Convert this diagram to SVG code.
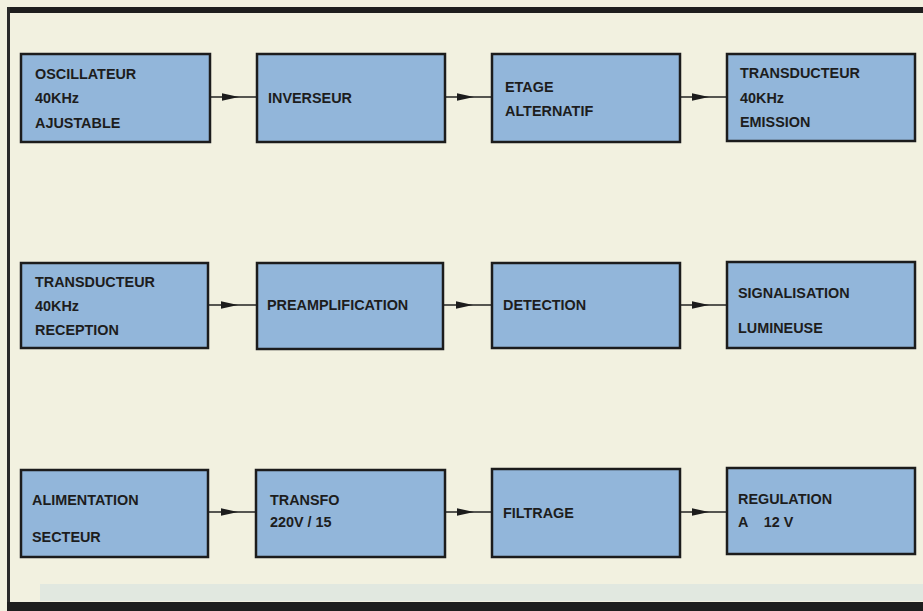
<svg xmlns="http://www.w3.org/2000/svg" width="923" height="611" viewBox="0 0 923 611">
  <defs>
    <style>
      .box { fill: #92b6da; stroke: #1c1c1c; stroke-width: 2.5; }
      .lbl { font-family: "Liberation Sans", Arial, Helvetica, sans-serif; font-weight: bold; font-size: 14.4px; fill: #1d1d1d; }
      .conn { fill: none; stroke: #222; stroke-width: 1.7; marker-mid: url(#arr); }
    </style>
    <marker id="arr" markerUnits="userSpaceOnUse" viewBox="0 0 17 9" markerWidth="17" markerHeight="9" refX="17" refY="4.5" orient="auto">
      <path d="M0,0.8 L17,4.5 L0,8.2 Z" fill="#1c1c1c"/>
    </marker>
  </defs>

  <!-- background & frame -->
  <rect x="0" y="0" width="923" height="611" fill="#f2f1e0"/>
  <rect x="40" y="584" width="883" height="17" fill="#e1e8e0"/>
  <rect x="7" y="7" width="916" height="6" fill="#1e1e1e"/>
  <rect x="7" y="7" width="3" height="598" fill="#2a2a2a"/>
  <rect x="7" y="602" width="916" height="9" fill="#1e1e1e"/>

  <g id="connectors">
    <polyline class="conn" points="211,97 239,97 257,97"/>
    <polyline class="conn" points="446,97 474,97 492,97"/>
    <polyline class="conn" points="681,97 709,97 727,97"/>
    <polyline class="conn" points="209,305 238,305 257,305"/>
    <polyline class="conn" points="444,305 473,305 492,305"/>
    <polyline class="conn" points="681,305 709,305 727,305"/>
    <polyline class="conn" points="209,512 238,512 256,512"/>
    <polyline class="conn" points="446,512 474,512 492,512"/>
    <polyline class="conn" points="681,512 709,512 727,512"/>
  </g>

  <!-- Row 1 -->
  <g id="oscillateur">
    <rect class="box" x="21" y="54" width="189" height="88"/>
    <text class="lbl" x="35" y="79">OSCILLATEUR</text>
    <text class="lbl" x="35" y="103">40KHz</text>
    <text class="lbl" x="35" y="128">AJUSTABLE</text>
  </g>
  <g id="inverseur">
    <rect class="box" x="257" y="54" width="188" height="88"/>
    <text class="lbl" x="268" y="103">INVERSEUR</text>
  </g>
  <g id="etage">
    <rect class="box" x="492" y="54" width="188" height="88"/>
    <text class="lbl" x="505" y="92">ETAGE</text>
    <text class="lbl" x="505" y="116">ALTERNATIF</text>
  </g>
  <g id="transducteur-emission">
    <rect class="box" x="727" y="54" width="188" height="87"/>
    <text class="lbl" x="740" y="78">TRANSDUCTEUR</text>
    <text class="lbl" x="740" y="103">40KHz</text>
    <text class="lbl" x="740" y="127">EMISSION</text>
  </g>

  <!-- Row 2 -->
  <g id="transducteur-reception">
    <rect class="box" x="21" y="263" width="187" height="85"/>
    <text class="lbl" x="35" y="287">TRANSDUCTEUR</text>
    <text class="lbl" x="35" y="311">40KHz</text>
    <text class="lbl" x="35" y="335">RECEPTION</text>
  </g>
  <g id="preamplification">
    <rect class="box" x="257" y="263" width="186" height="86"/>
    <text class="lbl" x="267" y="310">PREAMPLIFICATION</text>
  </g>
  <g id="detection">
    <rect class="box" x="492" y="263" width="188" height="85"/>
    <text class="lbl" x="503" y="310">DETECTION</text>
  </g>
  <g id="signalisation">
    <rect class="box" x="727" y="262" width="188" height="86"/>
    <text class="lbl" x="738" y="298">SIGNALISATION</text>
    <text class="lbl" x="738" y="333">LUMINEUSE</text>
  </g>

  <!-- Row 3 -->
  <g id="alimentation">
    <rect class="box" x="21" y="470" width="187" height="87"/>
    <text class="lbl" x="32" y="505">ALIMENTATION</text>
    <text class="lbl" x="32" y="542">SECTEUR</text>
  </g>
  <g id="transfo">
    <rect class="box" x="256" y="470" width="189" height="87"/>
    <text class="lbl" x="270" y="505">TRANSFO</text>
    <text class="lbl" x="270" y="527" xml:space="preserve">220V / 15</text>
  </g>
  <g id="filtrage">
    <rect class="box" x="492" y="469" width="188" height="88"/>
    <text class="lbl" x="503" y="518">FILTRAGE</text>
  </g>
  <g id="regulation">
    <rect class="box" x="727" y="468" width="188" height="86"/>
    <text class="lbl" x="738" y="504">REGULATION</text>
    <text class="lbl" x="738" y="527" xml:space="preserve">A    12 V</text>
  </g>
</svg>
